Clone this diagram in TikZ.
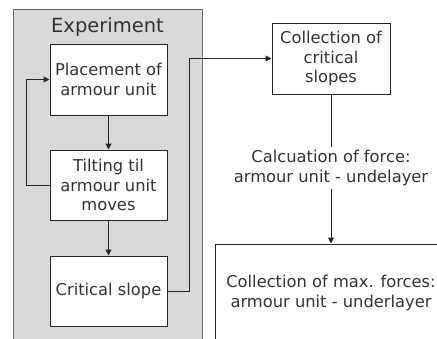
\documentclass[tikz,border=0pt]{standalone}
\usepackage{fontspec}
\setmainfont{DejaVu Sans}
\usetikzlibrary{arrows.meta}

\begin{document}
\begin{tikzpicture}[x=1pt, y=1pt,
  box/.style={draw=black!85, line width=1pt, fill=white, align=center,
    text=black!80, font=\fontsize{16.3}{19.5}\selectfont, inner sep=2pt},
  flow/.style={draw=black!85, line width=1pt},
  arr/.style={flow, -{Triangle[length=6pt, width=6pt]}}]
% Fix the page size
\useasboundingbox (0,0) rectangle (437,-338);

% Draw the grey experiment panel
\draw[fill=black!15, draw=black!60, line width=1pt] (13,-9) rectangle (202,-350);
\node[text=black!80, font=\fontsize{19.5}{23}\selectfont] (title) at (107.5,-27) {Experiment};

% Draw the boxes
\node[box, minimum width=117, minimum height=71] (place) at (108.5,-79.5) {Placement of\\armour unit};
\node[box, minimum width=117, minimum height=70] (tilt) at (108.5,-185) {Tilting til\\armour unit\\moves};
\node[box, minimum width=117, minimum height=70] (crit) at (108.5,-291) {Critical slope};
\node[box, minimum width=118, minimum height=71] (coll) at (331,-58.5) {Collection of\\critical\\slopes};
\node[box, draw=none, fill=none, inner ysep=3pt] (calc) at (331,-168) {Calcuation of force:\\armour unit - undelayer};
\node[box, minimum width=232, minimum height=98] (maxf) at (331,-293) {Collection of max. forces:\\armour unit - underlayer};

% Draw the connectors
\draw[arr] (place) -- (tilt);
\draw[arr] (tilt) -- (crit);
\draw[arr] (tilt.west) -- ++(-23,0) |- (place.west);
\draw[arr] (crit.east) -- ++(22,0) |- (coll.west);
\draw[flow] (coll) -- (calc);
\draw[arr] (calc) -- (maxf);
\end{tikzpicture}
\end{document}
